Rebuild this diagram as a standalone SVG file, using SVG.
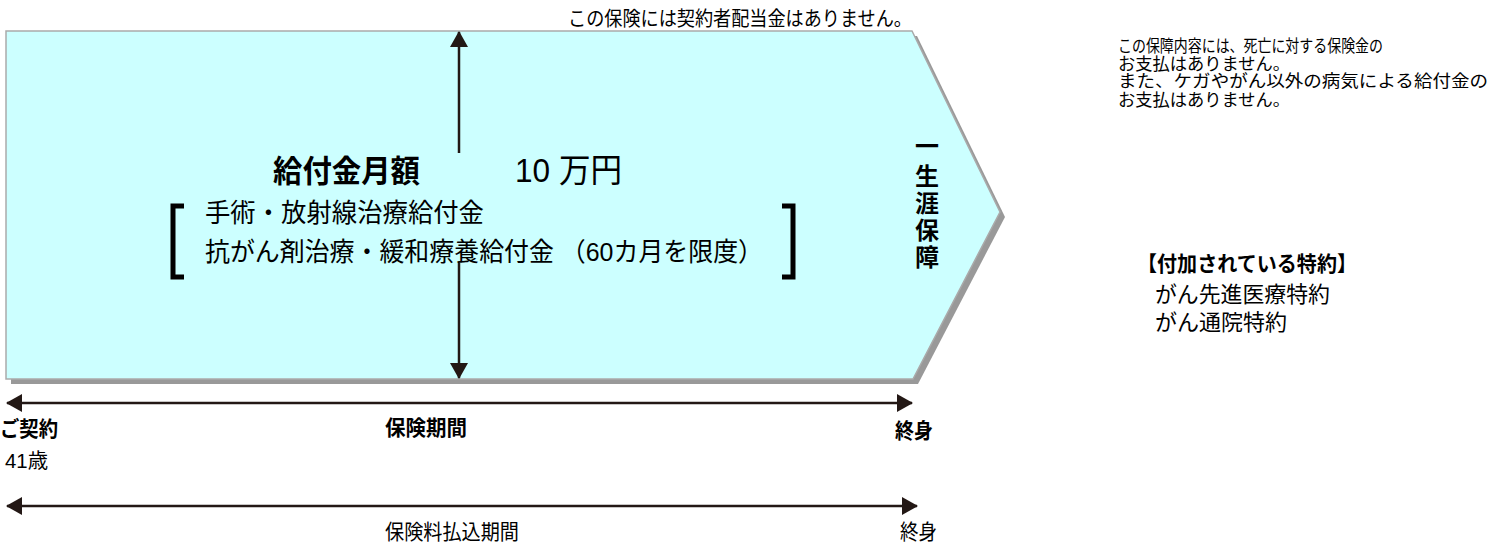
<svg xmlns="http://www.w3.org/2000/svg" width="1489" height="542" viewBox="0 0 1489 542">
<style>
text{font-family:"Liberation Sans","Noto Sans CJK JP",sans-serif;fill:#000}
.b{font-weight:bold}
.ln{stroke:#231815;stroke-width:2.5;fill:none}
.br{stroke:#000;stroke-width:5;fill:none}
.v{font-weight:bold;font-size:24px;text-anchor:middle}
</style>
<defs>
<marker id="ah" viewBox="0 0 16 18" refX="15" refY="9" markerWidth="16" markerHeight="18" markerUnits="userSpaceOnUse" orient="auto-start-reverse">
<path d="M0,0 L16,9 L0,18 Z" fill="#231815"/>
</marker>
</defs>
<rect width="1489" height="542" fill="#fff"/>
<g id="band">
<path d="M11,36 L917,36 L1005,217 L918,384 L11,384 Z" fill="#999"/>
<path d="M6,31 L912,31 L1000,212 L913,379 L6,379 Z" fill="#ccffff" stroke="#aaa" stroke-width="1.5"/>
</g>
<g id="connectors">
<line class="ln" x1="459" y1="153" x2="459" y2="32" marker-end="url(#ah)"/>
<line class="ln" x1="459" y1="263" x2="459" y2="378" marker-end="url(#ah)"/>
<line class="ln" x1="7" y1="403" x2="912" y2="403" marker-start="url(#ah)" marker-end="url(#ah)"/>
<line class="ln" x1="7" y1="506" x2="917" y2="506" marker-start="url(#ah)" marker-end="url(#ah)"/>
</g>
<g id="note-top">
<text x="568" y="26" font-size="20" textLength="344" lengthAdjust="spacingAndGlyphs">この保険には契約者配当金はありません。</text>
</g>
<g id="benefit">
<text class="b" x="273" y="182" font-size="31" textLength="147" lengthAdjust="spacingAndGlyphs">給付金月額</text>
<text x="515" y="182" font-size="33" textLength="107" lengthAdjust="spacingAndGlyphs">10 万円</text>
<path class="br" d="M184,206 L173,206 L173,277 L184,277"/>
<path class="br" d="M782,206 L793,206 L793,277 L782,277"/>
<text x="205" y="222" font-size="26" textLength="279" lengthAdjust="spacingAndGlyphs">手術・放射線治療給付金</text>
<text x="205" y="261" font-size="26" textLength="558" lengthAdjust="spacingAndGlyphs">抗がん剤治療・緩和療養給付金 （60カ月を限度）</text>
</g>
<g id="lifetime">
<text class="v" x="927" y="155">一</text>
<text class="v" x="927" y="185">生</text>
<text class="v" x="927" y="212">涯</text>
<text class="v" x="927" y="239">保</text>
<text class="v" x="927" y="266">障</text>
</g>
<g id="timeline">
<text class="b" x="0" y="436" font-size="21" textLength="58" lengthAdjust="spacingAndGlyphs">ご契約</text>
<text x="5" y="468" font-size="20" textLength="43" lengthAdjust="spacingAndGlyphs">41歳</text>
<text class="b" x="385" y="435" font-size="21" textLength="82" lengthAdjust="spacingAndGlyphs">保険期間</text>
<text class="b" x="895" y="438" font-size="21" textLength="38" lengthAdjust="spacingAndGlyphs">終身</text>
<text x="385" y="539" font-size="21" textLength="134" lengthAdjust="spacingAndGlyphs">保険料払込期間</text>
<text x="900" y="539" font-size="21" textLength="37" lengthAdjust="spacingAndGlyphs">終身</text>
</g>
<g id="note-right">
<text x="1118" y="52" font-size="16.5" textLength="265" lengthAdjust="spacingAndGlyphs">この保障内容には、死亡に対する保険金の</text>
<text x="1118" y="70" font-size="16.5" textLength="172" lengthAdjust="spacingAndGlyphs">お支払はありません。</text>
<text x="1118" y="87" font-size="16.5" textLength="370" lengthAdjust="spacingAndGlyphs">また、ケガやがん以外の病気による給付金の</text>
<text x="1118" y="106" font-size="16.5" textLength="172" lengthAdjust="spacingAndGlyphs">お支払はありません。</text>
</g>
<g id="riders">
<text class="b" x="1137" y="271" font-size="21" textLength="220" lengthAdjust="spacingAndGlyphs">【付加されている特約】</text>
<text x="1155" y="302" font-size="22" textLength="175" lengthAdjust="spacingAndGlyphs">がん先進医療特約</text>
<text x="1155" y="330" font-size="22" textLength="132" lengthAdjust="spacingAndGlyphs">がん通院特約</text>
</g>
</svg>
